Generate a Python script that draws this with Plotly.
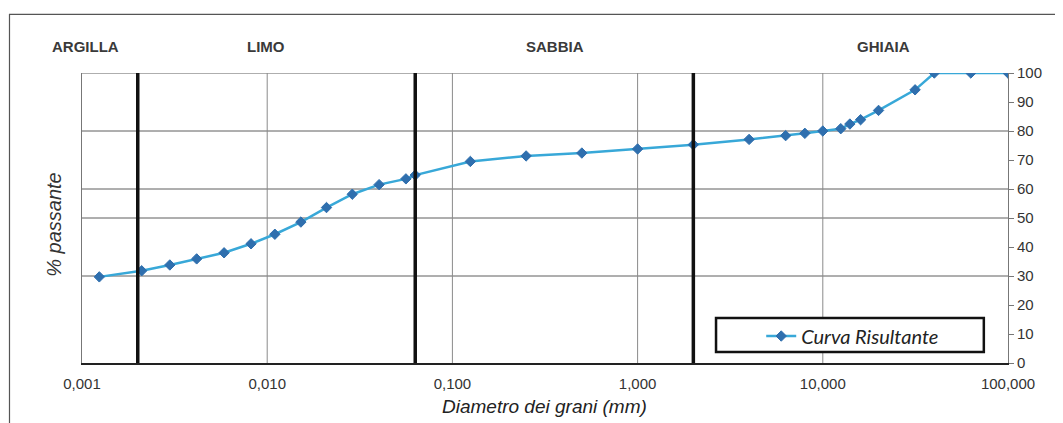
import math
import plotly.graph_objects as go

# ---- data ----
diam_mm = [0.00124, 0.0021, 0.00298, 0.00416, 0.00585, 0.00818, 0.0110, 0.0152,
           0.0209, 0.0288, 0.0402, 0.0561, 0.063, 0.125, 0.25, 0.5, 1.0, 2.0,
           4.0, 6.3, 8.0, 10.0, 12.5, 14.0, 16.0, 20.0, 31.5, 40.0, 63.0, 100.0]
passing_pct = [29.7, 31.8, 33.8, 35.9, 38.0, 41.1, 44.4, 48.6, 53.6, 58.2, 61.5,
               63.5, 64.8, 69.5, 71.4, 72.4, 73.8, 75.3, 77.1, 78.4, 79.2, 80.0,
               80.8, 82.4, 83.9, 87.1, 94.2, 100.0, 100.0, 100.0]
series_name = "Curva Risultante"

x_tickvals = [0.001, 0.01, 0.1, 1, 10, 100]
x_ticktext = ["0,001", "0,010", "0,100", "1,000", "10,000", "100,000"]
y_tickvals = [0, 10, 20, 30, 40, 50, 60, 70, 80, 90, 100]

class_limits = [0.002, 0.063, 2.0]
class_names = ["ARGILLA", "LIMO", "SABBIA", "GHIAIA"]
class_label_x = [0.00104, 0.0099, 0.36, 21.2]
grid_y = [30, 50, 60, 80, 100]
grid_x = [0.01, 0.1, 1, 10]

FONT = "Liberation Sans, Arial, sans-serif"

fig = go.Figure()
fig.add_trace(go.Scatter(
    x=diam_mm, y=passing_pct, mode="lines+markers", name=series_name,
    line=dict(color="#38a8d8", width=2.5),
    marker=dict(symbol="diamond", size=8, color="#2f6fae",
                line=dict(color="#2f6fae", width=1)),
))

shapes = []
for gy in grid_y:
    shapes.append(dict(type="line", xref="paper", yref="y", x0=0, x1=1, y0=gy, y1=gy,
                       line=dict(color="#5e5e5e", width=1), layer="below"))
for gx in grid_x:
    shapes.append(dict(type="line", xref="x", yref="paper", x0=gx, x1=gx, y0=0, y1=1,
                       line=dict(color="#8a8a8a", width=1), layer="below"))
for lim in class_limits:
    shapes.append(dict(type="line", xref="x", yref="paper", x0=lim, x1=lim, y0=0, y1=1,
                       line=dict(color="#111111", width=3.5), layer="above"))
# legend box
shapes.append(dict(type="rect", xref="paper", yref="paper", x0=0.6847, x1=0.9739,
                   y0=0.038, y1=0.155, fillcolor="white",
                   line=dict(color="#111111", width=2.5), layer="above"))
# outer frame
shapes.append(dict(type="rect", xref="paper", yref="paper", x0=-0.0783, x1=1.2,
                   y0=-0.4, y1=1.202, line=dict(color="#555555", width=1.2)))

annotations = []
for name, lx in zip(class_names, class_label_x):
    annotations.append(dict(x=math.log10(lx), y=1.091, xref="x", yref="paper", text=name,
                            showarrow=False, xanchor="center", yanchor="middle",
                            font=dict(family=FONT, size=15, color="#3a3a3a", weight="bold")))
annotations.append(dict(x=-0.0298, y=0.478, xref="paper", yref="paper", text="% passante",
                        textangle=-90, showarrow=False, xanchor="center", yanchor="middle",
                        font=dict(family=FONT, size=20, color="#333333", style="italic")))
annotations.append(dict(x=0.499, y=-0.151, xref="paper", yref="paper",
                        text="Diametro dei grani (mm)", showarrow=False,
                        xanchor="center", yanchor="middle",
                        font=dict(family=FONT, size=19, color="#222222", style="italic")))

fig.update_layout(
    width=1055, height=415,
    margin=dict(l=74, r=55, t=65, b=60),
    paper_bgcolor="white", plot_bgcolor="white",
    showlegend=True,
    legend=dict(x=0.7335, y=0.093, xanchor="left", yanchor="middle",
                bgcolor="rgba(0,0,0,0)", borderwidth=0,
                font=dict(family="Lato, Noto Sans, sans-serif", size=20, color="#222222",
                          style="italic")),
    shapes=shapes, annotations=annotations,
)
fig.update_xaxes(type="log", range=[-3, 2], tickvals=x_tickvals, ticktext=x_ticktext,
                 showgrid=False, zeroline=False,
                 showline=True, linecolor="#222222", linewidth=2,
                 ticks="outside", ticklen=6, tickcolor="rgba(0,0,0,0)",
                 tickfont=dict(family=FONT, size=15, color="#333333"))
fig.update_yaxes(range=[0, 100], tickvals=y_tickvals, side="right",
                 showgrid=False, zeroline=False,
                 showline=True, mirror=True, linecolor="#777777", linewidth=1,
                 ticks="outside", ticklen=5, tickcolor="#777777",
                 tickfont=dict(family=FONT, size=15, color="#333333"))

fig.write_html("out.html")
